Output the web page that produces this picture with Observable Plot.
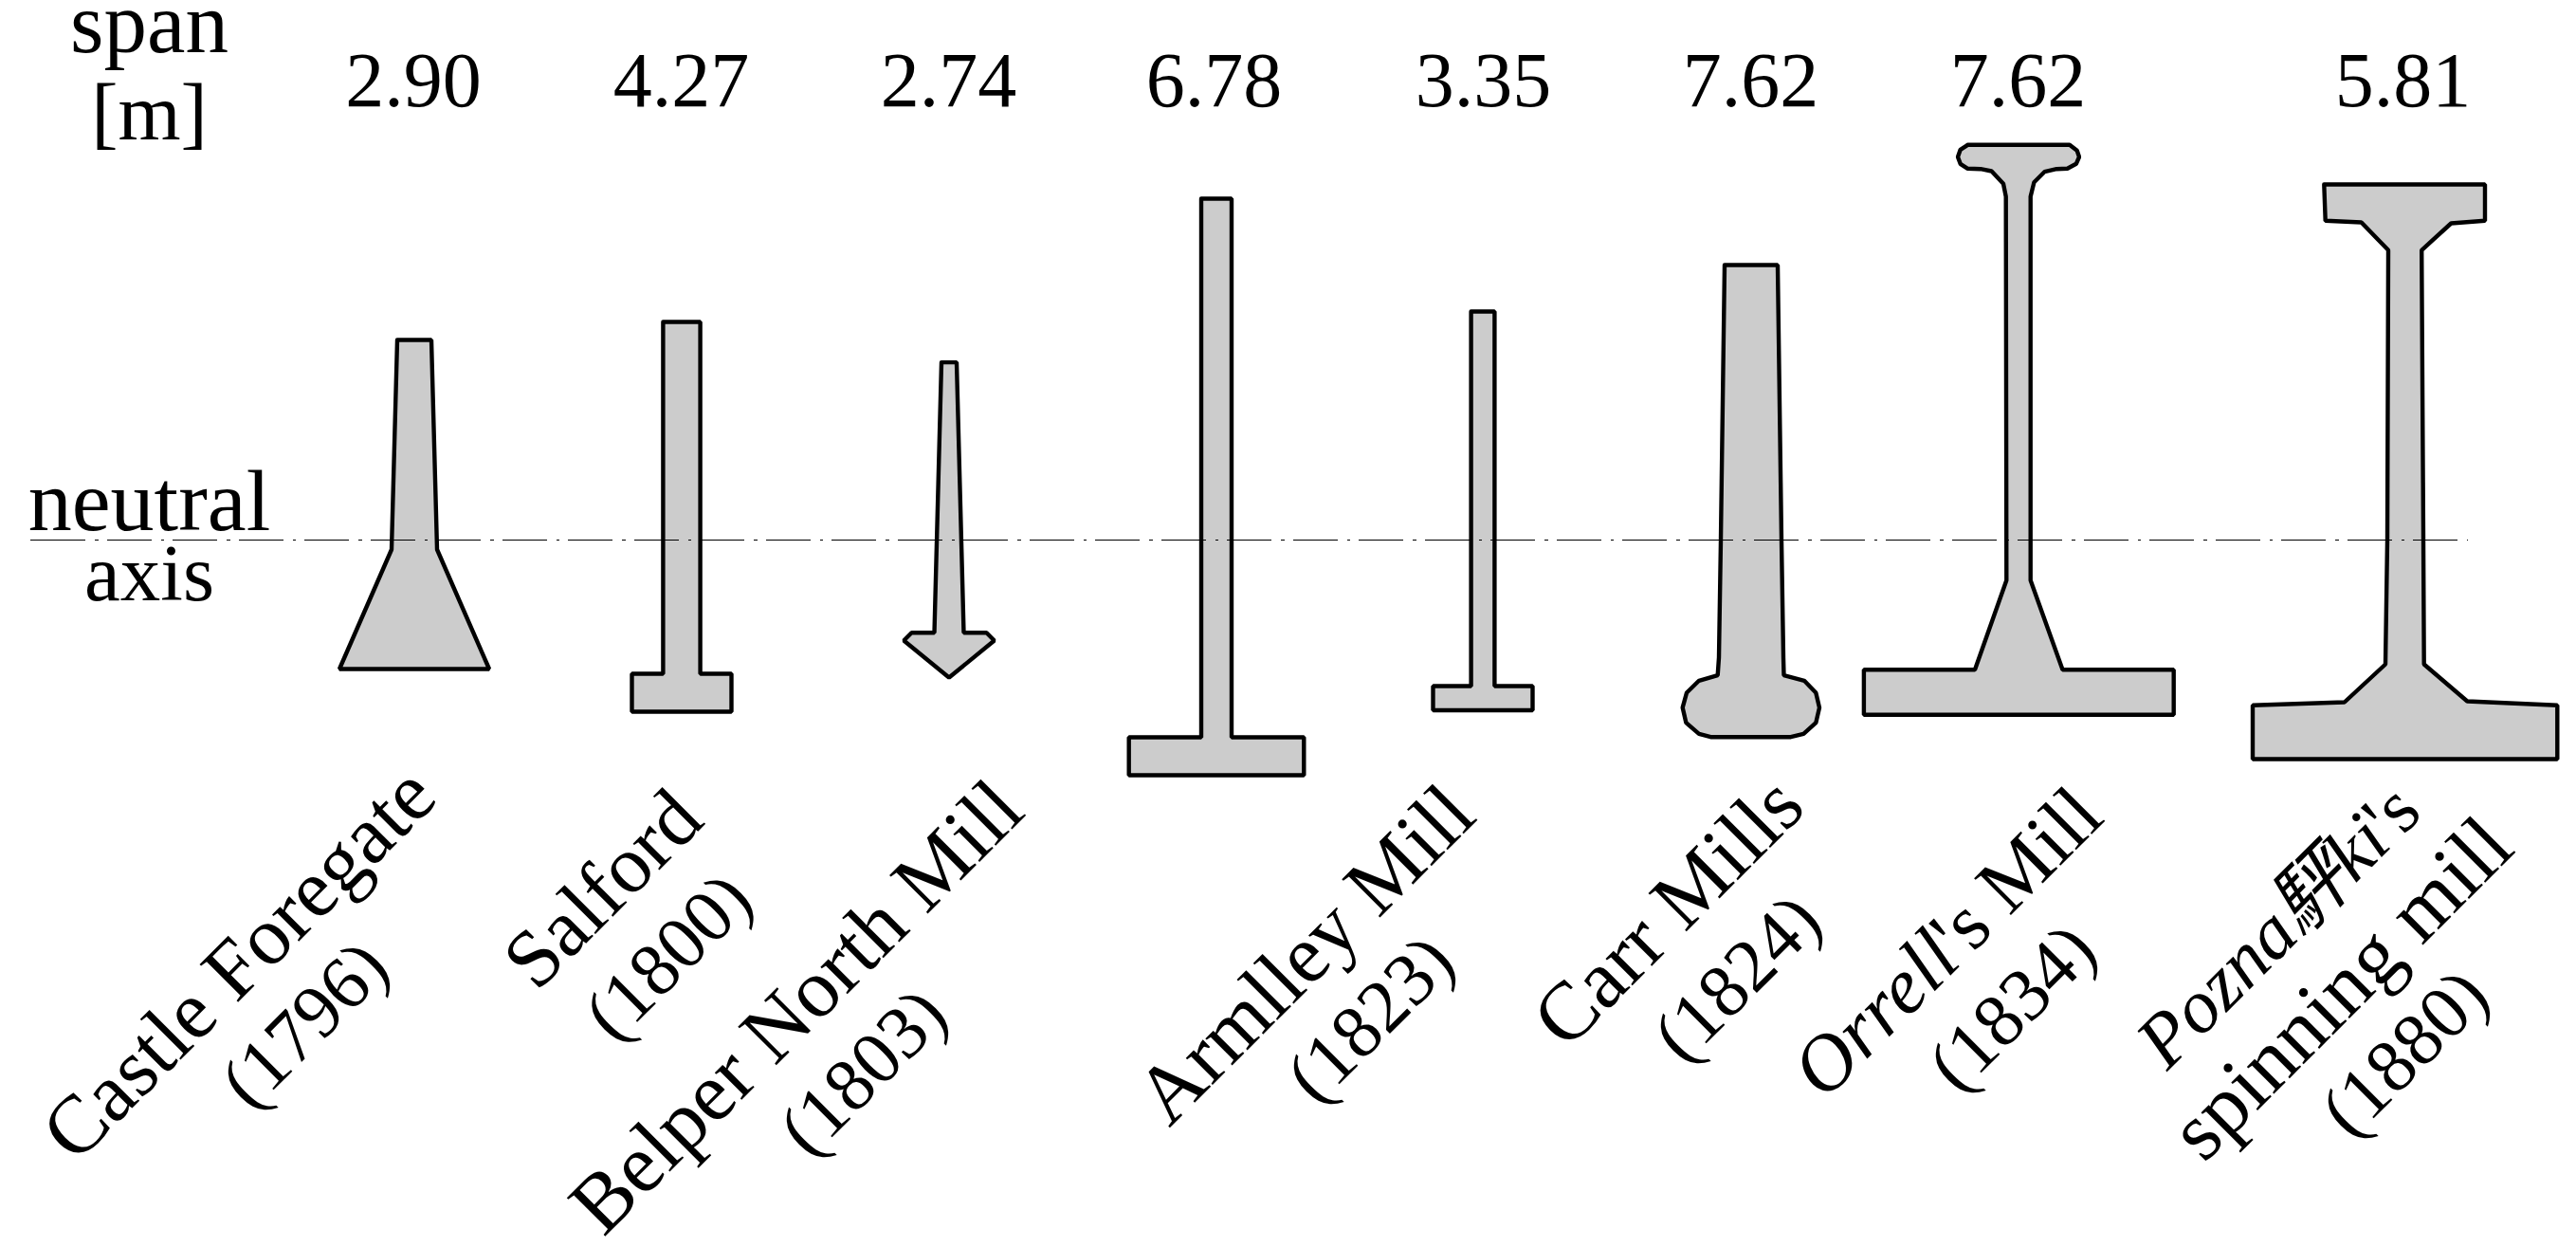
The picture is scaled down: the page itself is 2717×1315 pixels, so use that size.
<!DOCTYPE html>
<html>
<head>
<meta charset="utf-8">
<script src="https://cdn.jsdelivr.net/npm/d3@7"></script>
<script src="https://cdn.jsdelivr.net/npm/@observablehq/plot@0.6"></script>
<style>
html,body{margin:0;padding:0;background:#fff;overflow:hidden}
svg{display:block}
</style>
</head>
<body>
<div id="chart"></div>
<script>
// Cross-section outlines: [offset from section centre, height above neutral axis]
const castleForegate = [[-18,211],[18,211],[24,-10],[79,-136],[-79,-136],[-24,-10]];
const salford = [[-19.6,230],[19.6,230],[19.6,-141],[52.5,-141],[52.5,-181],[-52.5,-181],[-52.5,-141],[-19.6,-141]];
const belper = [[-8,187.4],[8,187.4],[15.5,-97.7],[39.5,-97.7],[47.7,-106],[0,-145],[-47.7,-106],[-39.5,-97.7],[-15.5,-97.7]];
const armlley = [[-16,360],[16,360],[16,-208],[92.3,-208],[92.3,-248],[-92.3,-248],[-92.3,-208],[-16,-208]];
const section335 = [[-12.4,241],[12.4,241],[12.4,-154],[52.5,-154],[52.5,-179.5],[-52.5,-179.5],[-52.5,-154],[-12.4,-154]];
const carr = [[-28,290],[28,290],[32,0],[34,-124],[34.5,-142.7],[56,-148.3],[68.3,-161],[72,-176.7],[68.3,-192.7],[55.3,-204.3],[41.8,-207.7],[-42.7,-207.7],[-55,-204.3],[-68.6,-192.7],[-72.3,-176.7],[-68,-161],[-55,-148.3],[-35.3,-142.7],[-34,-124],[-32,0]];
const orrell = [[-53.6,416.7],[53.9,416.7],[61.7,410.7],[64,404],[60.8,396.7],[51.6,391.7],[40.2,391.3],[27.4,388.3],[16.4,377.3],[12.7,362.3],[12.7,-42.4],[46.5,-136.7],[163.7,-136.7],[163.7,-184.3],[-163.1,-184.3],[-163.1,-136.7],[-46,-136.7],[-12.7,-42.4],[-13.3,362.3],[-16,375.7],[-28.4,389],[-40,391.3],[-53.6,391.7],[-61.3,396.7],[-64,404],[-61.3,411.7]];
const poznan = [[-85.7,375],[84,375],[84,336.7],[48.3,334],[17.2,305.7],[19,0],[19.7,-131],[65.3,-170],[160.3,-174.3],[160.3,-231],[-161,-231],[-161,-174.3],[-64.2,-171],[-21,-131],[-19,0],[-18,305.7],[-46.4,335],[-84.3,336.7]];

const spans = ["2.90","4.27","2.74","6.78","3.35","7.62","7.62","5.81"];
const sectionCentres = [436.5,718.5,1000.5,1282.5,1563.5,1846.5,2128.5,2536.5];
const spanCentres = [435.6,718,1000,1280,1564,1846,2128,2534];
const outlines = [castleForegate,salford,belper,armlley,section335,carr,orrell,poznan];

const sideText = ["span","[m]","neutral","axis"];
const sideX = [157,157,157,157];
const sideHeight = [515,423,11,-63];
const sideSize = [91,85,92,85];

const labelText = ["Castle Foregate","(1796)","Salford","(1800)","Belper North Mill","(1803)","Armlley Mill","(1823)","Carr Mills","(1824)","Orrell","'s Mill","(1834)","Pozna駍ki","'s","spinning mill","(1880)"];
const labelX = [271.5,339,655,722.5,859.5,928,1396,1463,1779,1850,2070,2070,2140,2524,2524,2489,2554];
const labelHeight = [-466.5,-529,-388,-457.5,-512.5,-579,-457,-523,-412,-480,-446,-446,-511,-322,-322,-493,-559];
const labelSize = [87,79,86,79,87.5,79,87,79,87,79,84,84,79,80,80,88,79];
const labelStyle = ["normal","normal","normal","normal","normal","normal","normal","normal","normal","normal","italic","normal","normal","italic","normal","normal","normal"];
const labelAnchor = ["middle","middle","middle","middle","middle","middle","middle","middle","middle","middle","end","start","middle","end","start","middle","middle"];

const axisStart = 32, axisEnd = 2603, axisDashStart = 43;

const outlineRows = outlines.flatMap((o, i) =>
  [...o, o[0]].map(([dx, h]) => ({section: i, x: sectionCentres[i] + dx, h})));
const labelRows = labelText.map((text, i) => ({
  text, x: labelX[i], h: labelHeight[i], size: labelSize[i], style: labelStyle[i], anchor: labelAnchor[i]
}));
const serif = "'Liberation Serif','Noto Sans CJK SC',serif";
const labelMark = (style, anchor) => Plot.text(
  labelRows.filter(d => d.style === style && d.anchor === anchor),
  {x: "x", y: "h", text: "text", fontSize: "size", rotate: -45, lineAnchor: "bottom",
   textAnchor: anchor, fontStyle: style, fill: "#000", fontFamily: serif}
);

const plot = Plot.plot({
  width: 2717, height: 1315,
  marginTop: 0, marginRight: 0, marginBottom: 0, marginLeft: 0,
  style: {background: "#fff"},
  x: {domain: [0, 2717], range: [0, 2717], axis: null},
  y: {domain: [569, -746], range: [0, 1315], axis: null},
  marks: [
    Plot.line(outlineRows, {x: "x", y: "h", z: "section", fill: "#cccccc", stroke: "#000",
      strokeWidth: 4.4, strokeLinejoin: "miter", curve: "linear"}),
    Plot.ruleY([0], {x1: axisDashStart, x2: axisEnd, stroke: "#000", strokeWidth: 1,
      strokeDasharray: "47 10 3.5 9", shapeRendering: "crispEdges"}),
    Plot.ruleY([0], {x1: axisStart, x2: axisDashStart, stroke: "#000", strokeWidth: 1, shapeRendering: "crispEdges"}),
    Plot.text(spans, {x: (d, i) => spanCentres[i], y: () => 458, text: d => d, fontSize: 82,
      lineAnchor: "bottom", fill: "#000", fontFamily: serif}),
    Plot.text(sideText, {x: (d, i) => sideX[i], y: (d, i) => sideHeight[i], text: d => d,
      fontSize: (d, i) => sideSize[i], lineAnchor: "bottom", fill: "#000", fontFamily: serif}),
    labelMark("normal", "middle"),
    labelMark("italic", "end"),
    labelMark("normal", "start")
  ]
});
document.getElementById("chart").append(plot);
</script>
</body>
</html>
